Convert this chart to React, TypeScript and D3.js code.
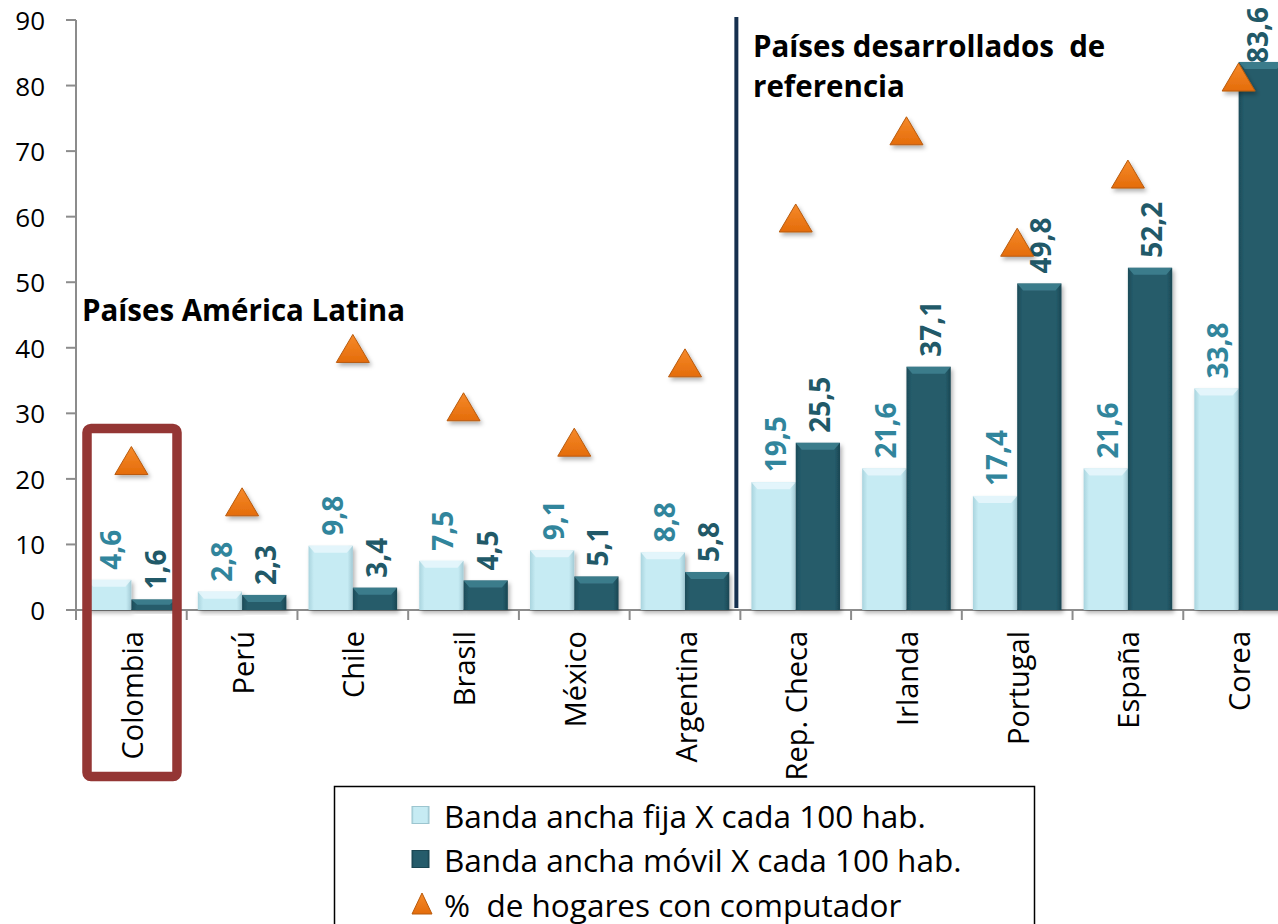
import React, { useEffect, useRef } from "react";
import * as d3 from "d3";

const countries = [
  "Colombia",
  "Perú",
  "Chile",
  "Brasil",
  "México",
  "Argentina",
  "Rep. Checa",
  "Irlanda",
  "Portugal",
  "España",
  "Corea",
];
const fixedBroadband = [4.6, 2.8, 9.8, 7.5, 9.1, 8.8, 19.5, 21.6, 17.4, 21.6, 33.8];
const mobileBroadband = [1.6, 2.3, 3.4, 4.5, 5.1, 5.8, 25.5, 37.1, 49.8, 52.2, 83.6];
const householdsWithPc = [22.8, 16.5, 39.9, 31.0, 25.6, 37.7, 59.8, 73.1, 56.1, 66.5, 81.3];
const yTicks = [0, 10, 20, 30, 40, 50, 60, 70, 80, 90];
const legendLabels = [
  "Banda ancha fija X cada 100 hab.",
  "Banda ancha móvil X cada 100 hab.",
  "%  de hogares con computador",
];

const width = 1278;
const height = 924;
const margin = { top: 20, left: 76, bottom: 610, right: 1294 };
const font = "'Open Sans', 'DejaVu Sans', sans-serif";

const fmt = (v: number) => d3.format(".1f")(v).replace(".", ",");

export default function App() {
  const ref = useRef<SVGSVGElement>(null);

  useEffect(() => {
    const svg = d3.select(ref.current);
    svg.selectAll("*").remove();

    const x = d3
      .scaleBand()
      .domain(countries)
      .range([margin.left, margin.right])
      .paddingInner(0)
      .paddingOuter(0);
    const y = d3.scaleLinear().domain([0, 90]).range([margin.bottom, margin.top]);
    const bw = x.bandwidth() * 0.4;

    // gradients and shadow
    const defs = svg.append("defs");
    const light = defs.append("linearGradient").attr("id", "gLight");
    light.append("stop").attr("offset", "0").attr("stop-color", "#a9d4de");
    light.append("stop").attr("offset", "0.12").attr("stop-color", "#c6ebf3");
    light.append("stop").attr("offset", "0.88").attr("stop-color", "#c6ebf3");
    light.append("stop").attr("offset", "1").attr("stop-color", "#a2cad5");
    const dark = defs.append("linearGradient").attr("id", "gDark");
    dark.append("stop").attr("offset", "0").attr("stop-color", "#1c4b58");
    dark.append("stop").attr("offset", "0.12").attr("stop-color", "#255c6b");
    dark.append("stop").attr("offset", "0.88").attr("stop-color", "#255c6b");
    dark.append("stop").attr("offset", "1").attr("stop-color", "#1a4652");
    const tri = defs
      .append("linearGradient")
      .attr("id", "gTri")
      .attr("x1", 0)
      .attr("x2", 0)
      .attr("y1", 0)
      .attr("y2", 1);
    tri.append("stop").attr("offset", "0").attr("stop-color", "#f68a2a");
    tri.append("stop").attr("offset", "1").attr("stop-color", "#e46c0a");
    const shadow = defs
      .append("filter")
      .attr("id", "shadow")
      .attr("x", "-30%")
      .attr("y", "-30%")
      .attr("width", "160%")
      .attr("height", "160%");
    shadow
      .append("feDropShadow")
      .attr("dx", 2)
      .attr("dy", 3)
      .attr("stdDeviation", 2)
      .attr("flood-color", "#000")
      .attr("flood-opacity", 0.3);

    // y axis
    const yAxis = svg.append("g");
    yAxis
      .append("line")
      .attr("x1", margin.left)
      .attr("x2", margin.left)
      .attr("y1", margin.top)
      .attr("y2", margin.bottom + 10)
      .attr("stroke", "#8c8c8c")
      .attr("stroke-width", 2);
    yAxis
      .selectAll("line.tick")
      .data(yTicks)
      .join("line")
      .attr("class", "tick")
      .attr("x1", margin.left - 10)
      .attr("x2", margin.left)
      .attr("y1", (d) => y(d))
      .attr("y2", (d) => y(d))
      .attr("stroke", "#8c8c8c")
      .attr("stroke-width", 2);
    yAxis
      .selectAll("text")
      .data(yTicks)
      .join("text")
      .attr("x", 45)
      .attr("y", (d) => y(d))
      .attr("text-anchor", "end")
      .attr("dominant-baseline", "central")
      .style("font-family", font)
      .style("font-size", "26px")
      .attr("fill", "#000")
      .text((d) => d);

    // x axis
    const xAxis = svg.append("g");
    xAxis
      .append("line")
      .attr("x1", margin.left)
      .attr("x2", margin.right)
      .attr("y1", margin.bottom)
      .attr("y2", margin.bottom)
      .attr("stroke", "#8c8c8c")
      .attr("stroke-width", 2);
    xAxis
      .selectAll("line.tick")
      .data(countries.slice(1))
      .join("line")
      .attr("class", "tick")
      .attr("x1", (d) => x(d)!)
      .attr("x2", (d) => x(d)!)
      .attr("y1", margin.bottom)
      .attr("y2", margin.bottom + 10)
      .attr("stroke", "#8c8c8c")
      .attr("stroke-width", 2);
    xAxis
      .selectAll("text")
      .data(countries)
      .join("text")
      .attr(
        "transform",
        (d) => `translate(${x(d)! + x.bandwidth() / 2}, ${margin.bottom + 21}) rotate(-90)`
      )
      .attr("text-anchor", "end")
      .attr("dominant-baseline", "central")
      .style("font-family", font)
      .style("font-size", "29px")
      .attr("fill", "#000")
      .text((d) => d);

    // bars
    const series = [
      { values: fixedBroadband, fill: "url(#gLight)", bevel: "#e8f7fb", label: "#31859c", off: 0 },
      { values: mobileBroadband, fill: "url(#gDark)", bevel: "#3f8191", label: "#215968", off: 1 },
    ];
    series.forEach((s) => {
      const g = svg.append("g");
      const bars = g
        .selectAll("g")
        .data(countries)
        .join("g")
        .attr("filter", "url(#shadow)");
      const bx = (d: string) => x(d)! + x.bandwidth() * 0.1 + s.off * bw;
      const top = (i: number) => y(s.values[i]);
      bars
        .append("rect")
        .attr("x", (d) => bx(d))
        .attr("y", (d, i) => top(i))
        .attr("width", bw)
        .attr("height", (d, i) => margin.bottom - top(i))
        .attr("fill", s.fill);
      bars
        .append("path")
        .attr("d", (d, i) => {
          const h = Math.min(7, (margin.bottom - top(i)) / 2);
          const x0 = bx(d);
          const t = top(i);
          return `M${x0},${t}L${x0 + bw},${t}L${x0 + bw - 6},${t + h}L${x0 + 6},${t + h}Z`;
        })
        .attr("fill", s.bevel)
        .attr("opacity", 0.85);
      g.selectAll("text")
        .data(countries)
        .join("text")
        .attr("text-anchor", "start")
        .attr("dominant-baseline", "central")
        .style("font-family", font)
        .style("font-size", "28px")
        .style("font-weight", "bold")
        .attr("fill", s.label)
        .text((d, i) => fmt(s.values[i]))
        .attr("transform", function (d, i) {
          // keep the label inside the chart area, like Excel does
          const len = (this as SVGTextElement).getComputedTextLength();
          const start = Math.max(top(i) - 10, 7 + len);
          const cx = Math.min(bx(d) + bw / 2 + 1, width - 21);
          return `translate(${cx}, ${start}) rotate(-90)`;
        });
    });

    // divider between regions
    const divX = x("Rep. Checa")! - 4;
    svg
      .append("line")
      .attr("x1", divX)
      .attr("x2", divX)
      .attr("y1", 17)
      .attr("y2", margin.bottom - 2)
      .attr("stroke", "#16304f")
      .attr("stroke-width", 4);

    // triangles: % households with computer
    const triW = 33;
    const triH = 28;
    svg
      .append("g")
      .selectAll("path")
      .data(countries)
      .join("path")
      .attr("d", (d, i) => {
        const cx = x(d)! + x.bandwidth() / 2;
        const cy = y(householdsWithPc[i]);
        return `M${cx},${cy - triH / 2}L${cx + triW / 2},${cy + triH / 2}L${cx - triW / 2},${cy + triH / 2}Z`;
      })
      .attr("fill", "url(#gTri)")
      .attr("stroke", "#b85a0c")
      .attr("stroke-width", 1)
      .attr("filter", "url(#shadow)");

    // annotations
    svg
      .append("text")
      .attr("x", 82)
      .attr("y", 321)
      .style("font-family", font)
      .style("font-size", "29.5px")
      .style("font-weight", "bold")
      .text("Países América Latina");
    const ref2 = svg
      .append("text")
      .attr("x", 753)
      .style("font-family", font)
      .style("font-size", "29.5px")
      .style("font-weight", "bold")
      .style("white-space", "pre");
    ref2.append("tspan").attr("x", 753).attr("y", 57).text("Países desarrollados  de");
    ref2.append("tspan").attr("x", 753).attr("y", 97).text("referencia");

    // highlight box around Colombia
    svg
      .append("rect")
      .attr("x", 87)
      .attr("y", 428.5)
      .attr("width", 90)
      .attr("height", 348)
      .attr("rx", 4)
      .attr("fill", "none")
      .attr("stroke", "#943634")
      .attr("stroke-width", 9.5);

    // legend
    const lg = svg.append("g");
    lg.append("rect")
      .attr("x", 334.5)
      .attr("y", 786.5)
      .attr("width", 700)
      .attr("height", 160)
      .attr("fill", "#fff")
      .attr("stroke", "#000")
      .attr("stroke-width", 1.5);
    const rowY = [815, 859, 904];
    const lgFills = ["url(#gLight)", "url(#gDark)"];
    lgFills.forEach((f, i) => {
      lg.append("rect")
        .attr("x", 412)
        .attr("y", rowY[i] - 8.5)
        .attr("width", 17)
        .attr("height", 17)
        .attr("fill", f)
        .attr("stroke", i === 0 ? "#9cc5cf" : "#1a4652")
        .attr("stroke-width", 1);
    });
    lg.append("path")
      .attr(
        "d",
        `M422,${rowY[2] - 11}L432,${rowY[2] + 10}L412,${rowY[2] + 10}Z`
      )
      .attr("fill", "url(#gTri)")
      .attr("stroke", "#b85a0c");
    lg.selectAll("text")
      .data(legendLabels)
      .join("text")
      .attr("x", 444)
      .attr("y", (d, i) => rowY[i])
      .attr("dominant-baseline", "central")
      .style("font-family", font)
      .style("font-size", "31.5px")
      .style("white-space", "pre")
      .attr("fill", "#000")
      .text((d) => d);
  }, []);

  return (
    <svg
      ref={ref}
      width={width}
      height={height}
      style={{ position: "absolute", left: 0, top: 0, background: "#fff" }}
    />
  );
}
